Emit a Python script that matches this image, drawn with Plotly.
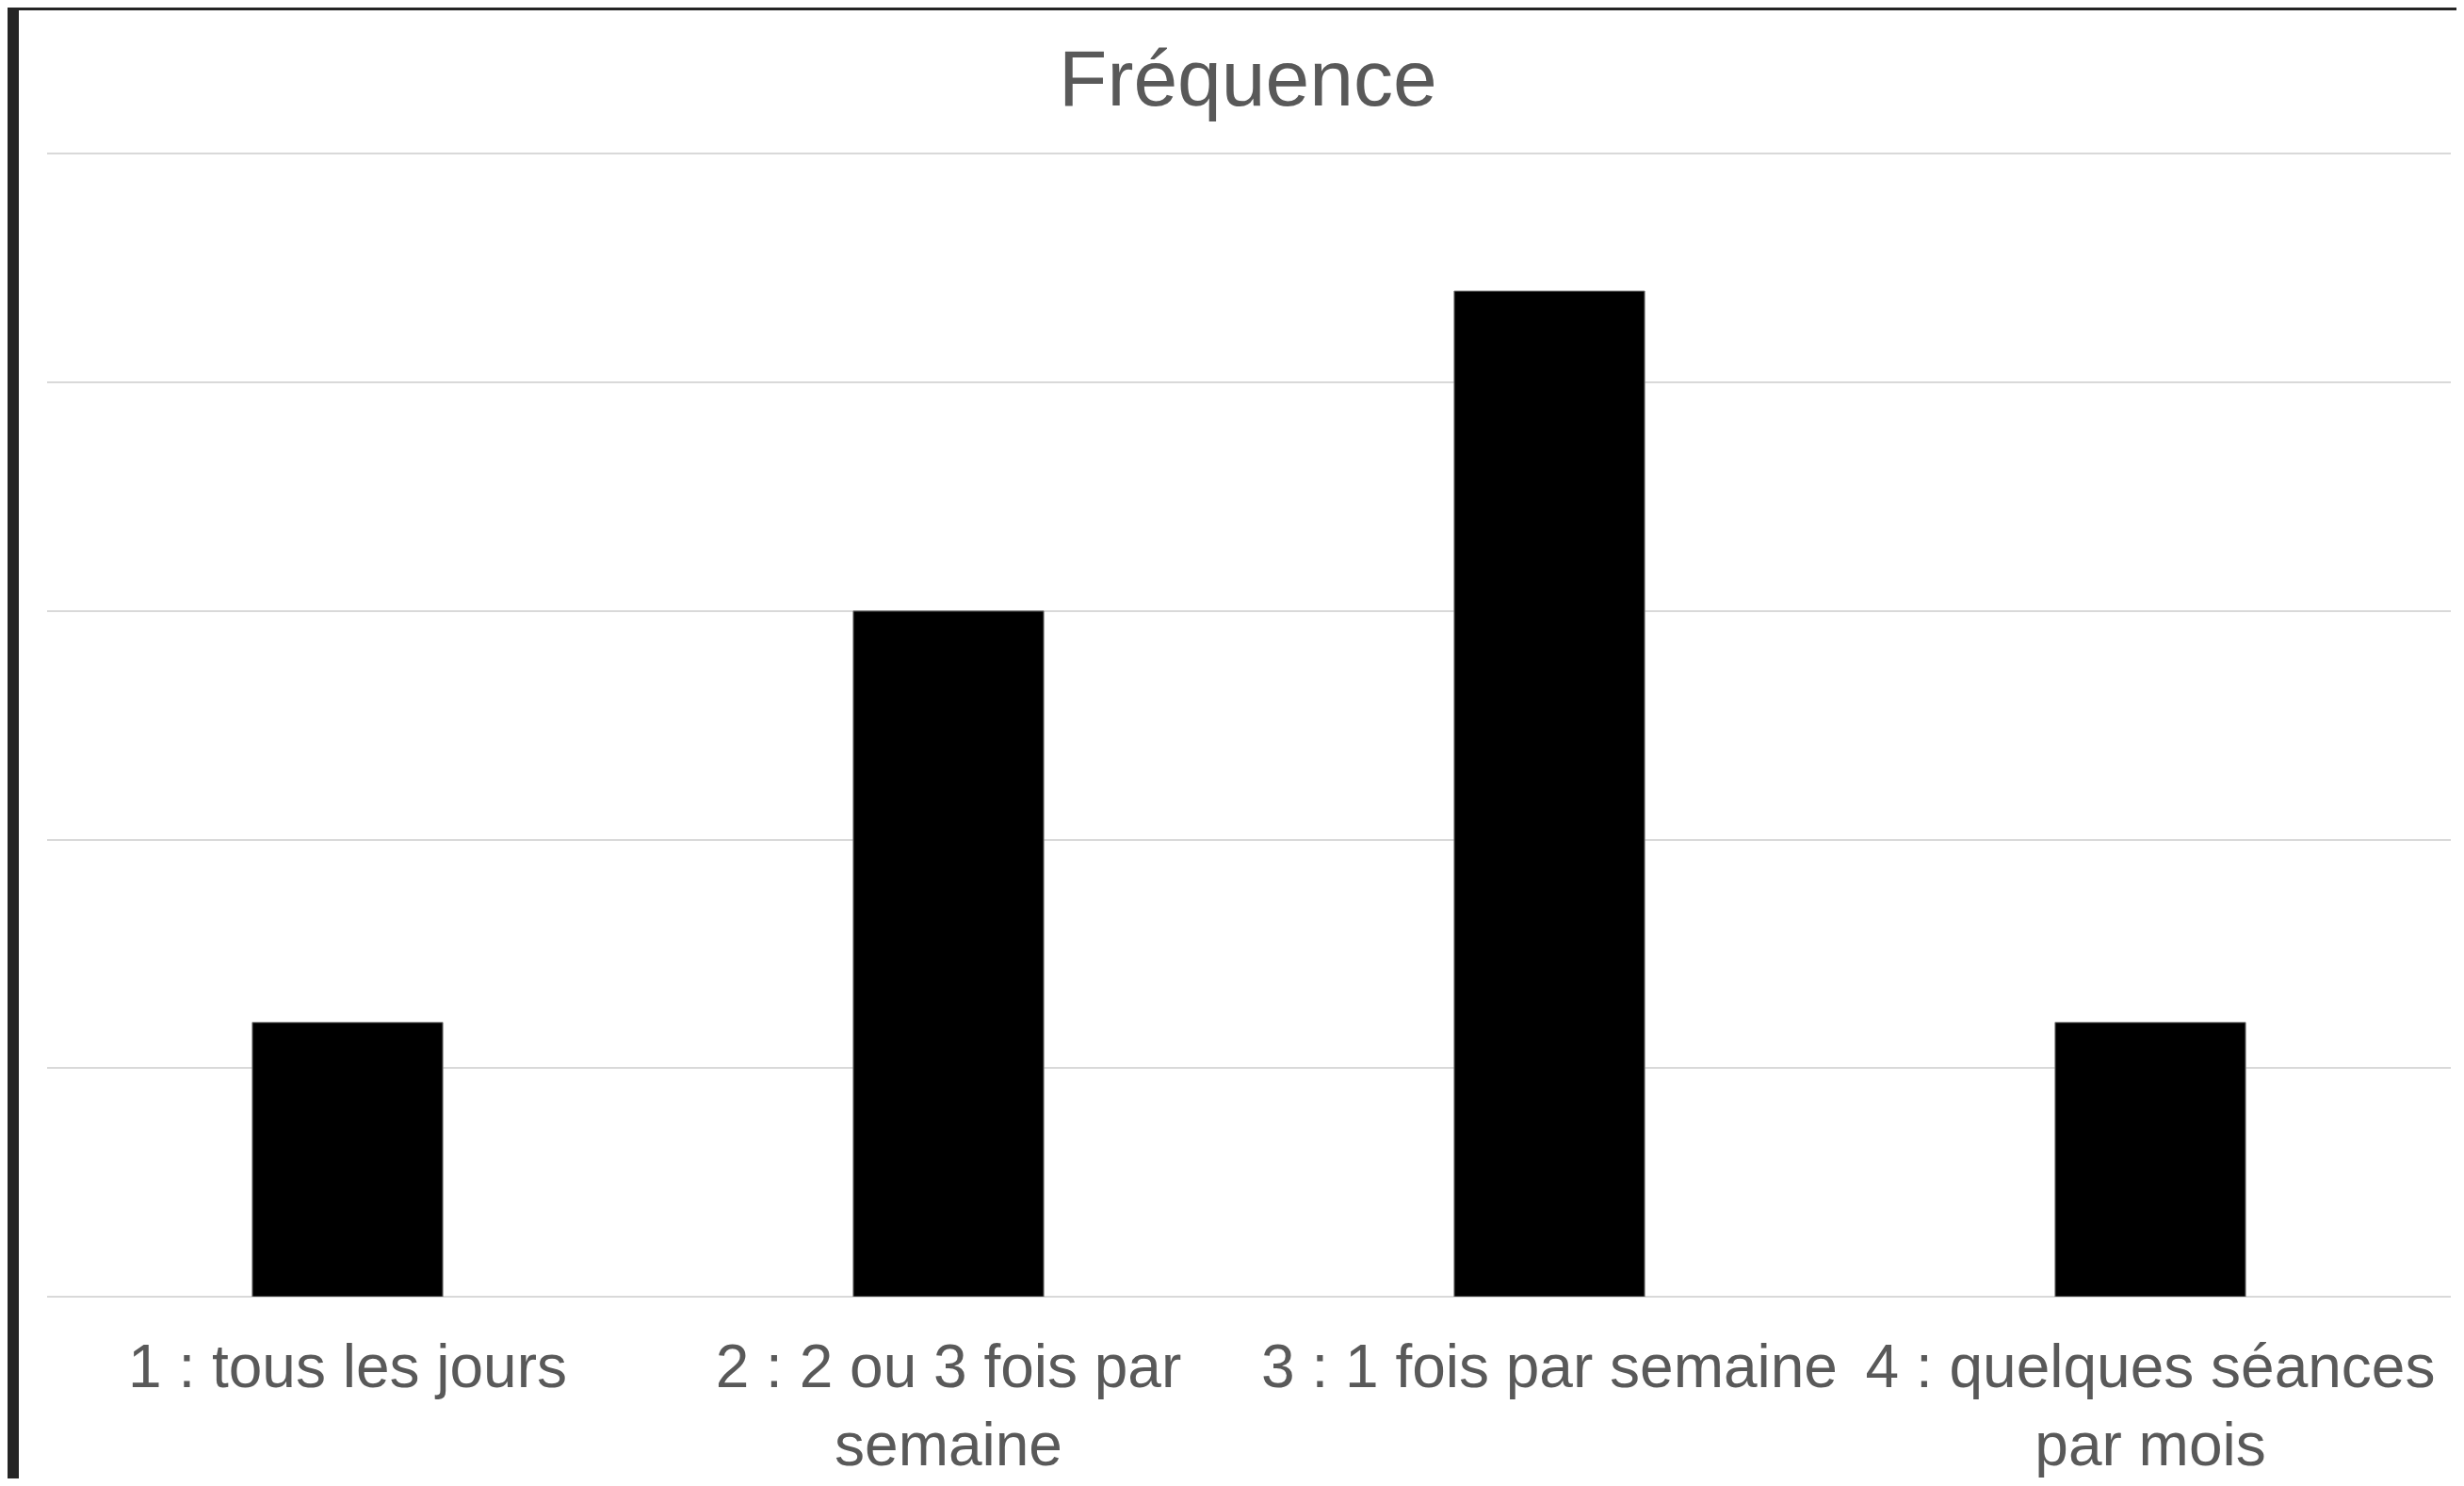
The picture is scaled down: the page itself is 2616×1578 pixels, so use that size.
import plotly.graph_objects as go

categories = ["1 : tous les jours", "2 : 2 ou 3 fois par<br>semaine",
              "3 : 1 fois par semaine", "4 : quelques séances<br>par mois"]
values = [6, 15, 22, 6]
y_ticks = [0, 5, 10, 15, 20, 25]
title_text = "Fréquence"

# page has an 8px body margin; figure is placed at (8, 8)
OFF = 8
W, H = 2616 - 2 * OFF, 1578 - 2 * OFF
L, T = 50 - OFF, 161 - OFF
R = W - (2602 - OFF)
B = H - (1377 - OFF)
pw, ph = W - L - R, H - T - B

def px_x(x):
    return (x - OFF - L) / pw

def px_y(y):
    return (H - B - (y - OFF)) / ph

fig = go.Figure()
fig.add_trace(go.Bar(x=categories, y=values,
                     marker=dict(color="#000000", line=dict(width=1, color="#7f7f7f"))))

fig.update_layout(
    width=W, height=H,
    margin=dict(l=L, r=R, t=T, b=B),
    paper_bgcolor="white", plot_bgcolor="white",
    bargap=0.683,
    showlegend=False,
    font=dict(family="Liberation Sans, Arial, sans-serif", color="#595959"),
    title=dict(text=title_text, x=0.5065, xanchor="center", y=1 - (83 - OFF) / H, yref="container",
               yanchor="middle", font=dict(size=84, color="#595959")),
    xaxis=dict(showgrid=False, tickfont=dict(size=64, color="#595959"), ticks="", showline=False,
               ticklabelstandoff=31, automargin=False),
    yaxis=dict(range=[0, 25.05], tickvals=y_ticks, showticklabels=False, showgrid=True,
               gridcolor="#d9d9d9", gridwidth=2, zeroline=True, zerolinecolor="#d9d9d9",
               zerolinewidth=2, showline=False, automargin=False),
)

# dark frame strips (top and left)
fig.add_shape(type="rect", xref="paper", yref="paper", x0=px_x(0), x1=px_x(2616), y0=px_y(11), y1=px_y(0),
              fillcolor="#252525", line=dict(width=0), layer="above")
fig.add_shape(type="rect", xref="paper", yref="paper", x0=px_x(0), x1=px_x(20), y0=px_y(1578), y1=px_y(0),
              fillcolor="#252525", line=dict(width=0), layer="above")

fig.write_html("out.html")
